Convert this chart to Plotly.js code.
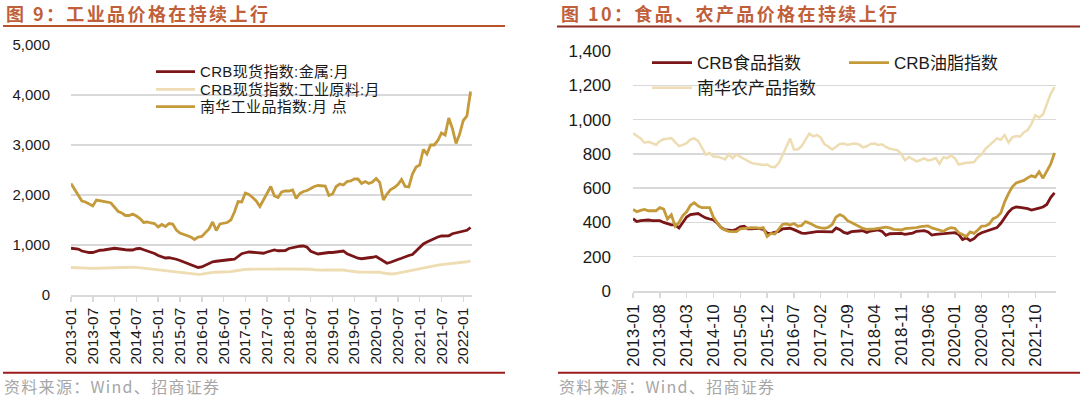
<!DOCTYPE html>
<html><head><meta charset="utf-8">
<script src="https://cdn.plot.ly/plotly-3.0.1.min.js"></script>
<style>
html,body{margin:0;padding:0;background:#fff;}
#chart{width:1080px;height:397px;}
</style></head><body><div id="chart"></div>
<script>
// ---- categories (monthly, 2013-01 .. 2022-03) ----
const months = [];
for (let i = 0; i < 111; i++) {
  const yr = 2013 + Math.floor(i / 12), mo = (i % 12) + 1;
  months.push(yr + '-' + String(mo).padStart(2, '0'));
}
const leftTicks = ['2013-01','2013-07','2014-01','2014-07','2015-01','2015-07','2016-01','2016-07','2017-01','2017-07','2018-01','2018-07','2019-01','2019-07','2020-01','2020-07','2021-01','2021-07','2022-01'];
const rightTicks = ['2013-01','2013-08','2014-03','2014-10','2015-05','2015-12','2016-07','2017-02','2017-09','2018-04','2018-11','2019-06','2020-01','2020-08','2021-03','2021-10'];

// ---- Figure 9 series ----
const leftNames = ['CRB现货指数:金属:月', 'CRB现货指数:工业原料:月', '南华工业品指数:月 点'];
const crbMetals = [935,935,920,880,860,850,850,880,895,900,915,930,935,925,910,905,900,900,925,930,905,880,860,830,790,765,740,745,735,715,690,665,640,605,575,550,560,600,635,665,675,685,700,715,710,715,775,825,845,860,855,845,840,835,860,880,900,885,880,890,930,950,965,975,980,955,875,840,820,830,845,850,850,860,880,880,825,790,755,735,725,730,740,755,770,730,680,635,655,690,710,735,770,790,810,880,960,1020,1060,1095,1140,1160,1180,1180,1185,1225,1240,1265,1280,1295,1350];
const crbRawInd = [550,545,540,540,535,535,533,535,538,538,535,540,542,545,548,550,552,555,553,545,535,525,515,505,498,492,488,486,480,470,460,452,445,430,420,412,418,432,445,452,455,455,458,462,468,480,495,505,512,515,514,512,510,512,515,515,518,522,522,525,527,530,528,525,522,520,515,505,498,498,500,500,500,502,505,500,488,475,465,460,458,458,460,463,465,455,440,425,420,425,440,452,465,475,490,510,530,550,565,575,588,598,608,615,625,640,648,655,660,665,680];
const nanhuaInd = [2230,2120,1990,1880,1860,1820,1780,1900,1890,1870,1860,1840,1750,1670,1640,1590,1590,1620,1580,1530,1450,1460,1440,1430,1360,1410,1370,1430,1420,1300,1240,1210,1190,1160,1110,1160,1170,1240,1320,1460,1290,1420,1440,1450,1500,1660,1870,1860,2040,2010,1950,1880,1770,1900,2040,2170,1980,1950,2060,2080,2080,2100,1930,2030,2070,2090,2130,2170,2190,2190,2180,1990,2020,2170,2220,2200,2270,2280,2320,2320,2230,2270,2230,2260,2330,2250,1900,2020,2110,2150,2210,2310,2170,2160,2420,2560,2600,2910,2820,3000,3000,3090,3240,3200,3540,3330,3030,3220,3490,3580,4070];

// ---- Figure 10 series ----
const crbFood = [422,405,410,412,414,410,408,410,400,392,386,386,368,400,432,446,450,452,438,426,420,415,396,370,358,356,352,360,374,378,362,362,366,364,360,338,336,342,348,362,366,366,358,346,338,336,340,344,346,346,346,342,345,368,358,342,336,346,346,350,352,342,350,354,356,348,325,334,336,336,336,330,332,338,348,352,352,344,326,330,332,332,336,340,340,330,300,310,294,305,328,340,348,358,366,370,395,430,460,482,490,488,486,480,472,476,484,490,505,545,572];
const crbFats = [476,462,470,476,468,468,468,486,478,420,445,378,400,440,462,500,515,495,486,486,486,430,400,368,356,348,346,346,362,366,366,370,368,366,370,318,336,332,360,388,392,385,394,378,382,405,396,384,374,368,366,372,388,432,446,434,410,400,388,376,365,360,360,362,366,368,372,368,360,358,356,364,366,366,370,375,378,380,368,360,354,348,362,370,366,340,330,318,345,336,356,378,380,392,422,432,455,520,568,608,630,638,645,660,672,665,695,658,700,740,805];
const nanhuaAgri = [920,905,890,865,870,862,852,875,885,888,892,868,845,852,862,885,890,875,835,795,805,785,783,778,768,798,774,797,783,770,760,746,742,739,735,738,725,722,745,790,840,890,825,826,845,880,918,902,910,895,855,842,826,842,858,860,852,858,860,855,838,844,858,860,852,856,840,830,828,822,800,762,782,770,756,764,774,762,766,776,742,780,775,790,775,738,744,748,750,752,780,796,830,852,868,890,882,910,865,896,904,900,925,938,975,1025,1012,1030,1090,1150,1190];

const DARK = '#7A1518', GOLD = '#C49A3A', LIGHT = '#EEDDB2';
const W = 1080, H = 397;
const px = v => v / W, py = v => 1 - v / H;
const leftColors = [DARK, LIGHT, GOLD];

const data = [
  {x: months, y: crbMetals, name: leftNames[0], type: 'scatter', mode: 'lines', line: {color: DARK, width: 2.8}, xaxis: 'x', yaxis: 'y', showlegend: false},
  {x: months, y: crbRawInd, name: leftNames[1], type: 'scatter', mode: 'lines', line: {color: LIGHT, width: 2.8}, xaxis: 'x', yaxis: 'y', showlegend: false},
  {x: months, y: nanhuaInd, name: leftNames[2], type: 'scatter', mode: 'lines', line: {color: GOLD, width: 2.8}, xaxis: 'x', yaxis: 'y', showlegend: false},
  {x: months, y: crbFood, name: 'CRB食品指数', type: 'scatter', mode: 'lines', line: {color: DARK, width: 2.8}, xaxis: 'x2', yaxis: 'y2', legend: 'legend2'},
  {x: months, y: crbFats, name: 'CRB油脂指数', type: 'scatter', mode: 'lines', line: {color: GOLD, width: 2.8}, xaxis: 'x2', yaxis: 'y2', legend: 'legend3'},
  {x: months, y: nanhuaAgri, name: '南华农产品指数', type: 'scatter', mode: 'lines', line: {color: LIGHT, width: 2.5}, xaxis: 'x2', yaxis: 'y2', legend: 'legend2'}
];

const tickFont = (s) => ({family: 'Liberation Sans, Arial, sans-serif', size: s, color: '#1a1a1a'});
const xCommon = {
  type: 'category', showgrid: false, zeroline: false, showline: true, linecolor: '#d9d9d9', linewidth: 1.5,
  ticks: 'outside', ticklen: 5, tickwidth: 1.5, tickcolor: '#d9d9d9', tickangle: -90, range: [0, 110.4], fixedrange: true
};
const yCommon = {showgrid: true, gridcolor: '#d9d9d9', gridwidth: 1.5, zeroline: false, showline: false, ticks: '', tickformat: ',d', fixedrange: true};
const legFont = (s) => ({family: 'Liberation Sans, Noto Sans CJK SC, sans-serif', size: s, color: '#1a1a1a'});

const shapes = [
  {type: 'line', xref: 'paper', yref: 'paper', x0: px(3), x1: px(505), y0: py(26), y1: py(26), line: {color: '#B9532B', width: 2}},
  {type: 'line', xref: 'paper', yref: 'paper', x0: px(557), x1: 1, y0: py(26.5), y1: py(26.5), line: {color: '#8E2A1E', width: 2}},
  {type: 'line', xref: 'paper', yref: 'paper', x0: px(3), x1: px(505), y0: py(372.7), y1: py(372.7), line: {color: '#9B1C1C', width: 2}},
  {type: 'line', xref: 'paper', yref: 'paper', x0: px(558), x1: 1, y0: py(372.7), y1: py(372.7), line: {color: '#9B1C1C', width: 2}}
];
const annotations = [
  {text: '<span style="letter-spacing:2.4px">图 9：工业品价格在持续上行</span>', x: px(4), y: py(13), xref: 'paper', yref: 'paper', xanchor: 'left', yanchor: 'middle', showarrow: false,
    font: {family: 'Noto Sans CJK SC, sans-serif', size: 18, color: '#C0603A', weight: 'bold'}},
  {text: '<span style="letter-spacing:2.4px">图 10：食品、农产品价格在持续上行</span>', x: px(559), y: py(13), xref: 'paper', yref: 'paper', xanchor: 'left', yanchor: 'middle', showarrow: false,
    font: {family: 'Noto Sans CJK SC, sans-serif', size: 18, color: '#C0603A', weight: 'bold'}},
  {text: '<span style="letter-spacing:1.3px">资料来源：Wind、招商证券</span>', x: px(2), y: py(386), xref: 'paper', yref: 'paper', xanchor: 'left', yanchor: 'middle', showarrow: false,
    font: {family: 'Noto Sans CJK SC, sans-serif', size: 16, color: '#a6a6a6'}},
  {text: '<span style="letter-spacing:1.3px">资料来源：Wind、招商证券</span>', x: px(557), y: py(386), xref: 'paper', yref: 'paper', xanchor: 'left', yanchor: 'middle', showarrow: false,
    font: {family: 'Noto Sans CJK SC, sans-serif', size: 16, color: '#a6a6a6'}}
];
// left legend (drawn manually for tight row spacing)
const legRows = [71.7, 89.3, 106.7];
leftNames.forEach((nm, i) => {
  shapes.push({type: 'line', xref: 'paper', yref: 'paper', x0: px(156), x1: px(195), y0: py(legRows[i]), y1: py(legRows[i]), line: {color: leftColors[i], width: 2.8}});
  annotations.push({text: '<span style="letter-spacing:0.35px">' + nm + '</span>', x: px(198), y: py(legRows[i]), xref: 'paper', yref: 'paper', xanchor: 'left', yanchor: 'middle', showarrow: false, font: legFont(15)});
});

const layout = {
  width: W, height: H, margin: {l: 0, r: 0, t: 0, b: 0}, paper_bgcolor: '#fff', plot_bgcolor: 'rgba(0,0,0,0)',
  showlegend: true,
  xaxis: Object.assign({}, xCommon, {domain: [px(71), px(472)], anchor: 'y', tickmode: 'array', tickvals: leftTicks, ticktext: leftTicks, tickfont: tickFont(15.5)}),
  yaxis: Object.assign({}, yCommon, {domain: [1 - 295 / H, 1 - 45 / H], anchor: 'x', range: [0, 5000], dtick: 1000, tickfont: tickFont(15), ticklabelstandoff: 20}),
  xaxis2: Object.assign({}, xCommon, {domain: [px(633), px(1056)], anchor: 'y2', tickmode: 'array', tickvals: rightTicks, ticktext: rightTicks, tickfont: tickFont(17)}),
  yaxis2: Object.assign({}, yCommon, {domain: [1 - 291 / H, 1 - 51 / H], anchor: 'x2', range: [0, 1400], dtick: 200, tickfont: tickFont(17), ticklabelstandoff: 21}),
  legend2: {x: px(647), y: py(45), xanchor: 'left', yanchor: 'top', bgcolor: 'rgba(0,0,0,0)', tracegroupgap: 0, itemwidth: 40,
    font: legFont(17), itemclick: false, itemdoubleclick: false},
  legend3: {x: px(844), y: py(45), xanchor: 'left', yanchor: 'top', bgcolor: 'rgba(0,0,0,0)', tracegroupgap: 0, itemwidth: 40,
    font: legFont(17), itemclick: false, itemdoubleclick: false},
  annotations: annotations,
  shapes: shapes
};

Plotly.newPlot('chart', data, layout, {staticPlot: true, displayModeBar: false});
</script></body></html>
